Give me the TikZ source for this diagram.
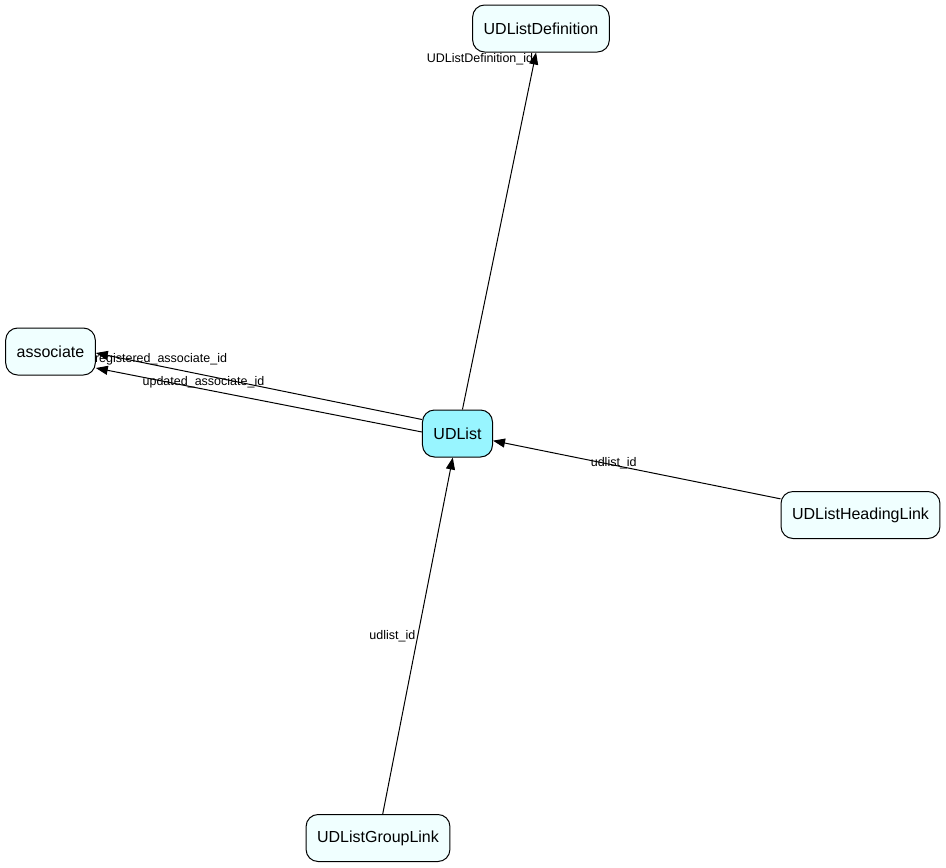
\documentclass[tikz,border=0pt]{standalone}
\usepackage{fontspec}
\setmainfont{Liberation Sans}
\usepackage{tikz}
\usetikzlibrary{arrows.meta}
\definecolor{tblAzure}{RGB}{240,255,255}
\definecolor{tblCadet}{RGB}{152,245,255}
\tikzset{
  tblnode/.style = {align=center, inner xsep=11pt, text centered,
    rectangle, rounded corners=12pt, draw=black, line width=1pt,
    minimum height=47pt, font=\fontsize{16}{19}\selectfont},
  tbl_main/.style = {tblnode, fill=tblCadet},% table centrale
  tbl_ref/.style = {tblnode, fill=tblAzure},% table liee
  fk_lbl/.style = {inner sep=1pt, font=\fontsize{12.5}{14}\selectfont},% nom de cle
  fk/.style = {line width=1pt, -{Triangle[length=12pt,width=9pt]}}
}

\begin{document}
\begin{tikzpicture} [x=1pt, y=-1pt]
		\useasboundingbox (0,0) rectangle (946,868);
		\node [tbl_main] (udlist) at (457.5,433.5) {UDList};
		\node [tbl_ref] (udlistdef) at (541,28.5) {UDListDefinition};
		\node [tbl_ref] (associate) at (50.5,351.5) {associate};
		\node [tbl_ref] (headlink) at (860.5,515) {UDListHeadingLink};
		\node [tbl_ref] (grouplink) at (378,838) {UDListGroupLink};
		\draw [fk] (udlist) -- (udlistdef)
		  node [fk_lbl, pos=0.98, anchor=east] (lbl_def) {UDListDefinition\_id};
		\draw [fk] ([yshift=14pt]udlist.west) -- ([yshift=-1.5pt]associate.east)
		  node [fk_lbl, pos=0.8, anchor=south] (lbl_reg) {registered\_associate\_id};
		\draw [fk] ([yshift=1.5pt]udlist.west) -- ([yshift=-16.5pt]associate.east)
		  node [fk_lbl, pos=0.67, anchor=south] (lbl_upd) {updated\_associate\_id};
		\draw [fk] (headlink) -- (udlist)
		  node [fk_lbl, pos=0.58, yshift=2pt] (lbl_head) {udlist\_id};
		\draw [fk] (grouplink) -- (udlist)
		  node [fk_lbl, pos=0.5, anchor=east, inner sep=2pt] (lbl_group) {udlist\_id};
	\end{tikzpicture}
\end{document}
